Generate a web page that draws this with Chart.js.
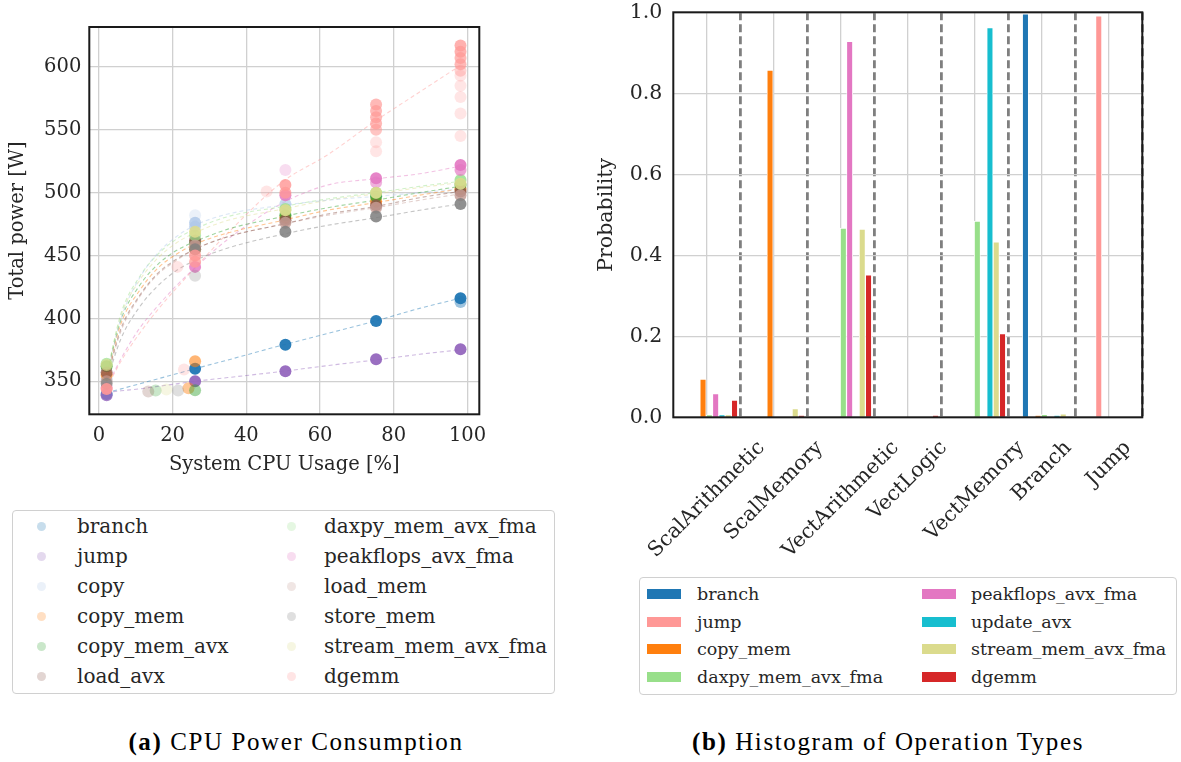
<!DOCTYPE html>
<html><head><meta charset="utf-8">
<script src="https://cdn.jsdelivr.net/npm/chart.js@4"></script>
<style>
html,body{margin:0;padding:0;background:#fff;}
#wrap{position:relative;width:1181px;height:762px;overflow:hidden;font-family:"DejaVu Serif",serif;color:#262626;}
canvas{position:absolute;}
.box{position:absolute;border:1.5px solid #d0d0d0;border-radius:4px;box-sizing:border-box;}
.li{position:absolute;white-space:nowrap;}
.cap{position:absolute;font-family:"Liberation Serif",serif;font-size:25px;color:#000;white-space:nowrap;letter-spacing:1.6px;transform:translateX(-50%);}
</style></head>
<body><div id="wrap">
<canvas id="cpu" width="490" height="480" style="left:0;top:0"></canvas>
<canvas id="ops" width="621" height="570" style="left:560px;top:0"></canvas>
<div class="box" style="left:12px;top:510px;width:543px;height:184px"></div>
<div class="box" style="left:639px;top:577px;width:538px;height:118px"></div>
<div id="legA"></div><div id="legB"></div>
<div class="cap" style="left:296px;top:728px"><b>(a)</b> CPU Power Consumption</div>
<div class="cap" style="left:888px;top:728px"><b>(b)</b> Histogram of Operation Types</div>
</div>
<script>
// ---------------- (a) CPU power consumption ----------------
const X_TICKS = [0, 20, 40, 60, 80, 100];
const Y_TICKS = [350, 400, 450, 500, 550, 600];
const SERIES = ['branch','jump','copy','copy_mem','copy_mem_avx','load_avx',
  'daxpy_mem_avx_fma','peakflops_avx_fma','load_mem','store_mem','stream_mem_avx_fma','dgemm'];
const SERIES_COLORS = ['#1f77b4','#9467bd','#aec7e8','#ff7f0e','#2ca02c','#8c564b',
  '#98df8a','#e377c2','#c49c94','#7f7f7f','#dbdb8d','#ff9896'];

// measurements: [system CPU usage %, total power W, number of overlapping runs]
const PTS_BRANCH = [[2.1,340,5],[26.1,360,10],[50.6,379,10],[75.2,398,10],[98.1,416,10],[98.1,413,2]];
const PTS_JUMP = [[2.1,339,6],[26.1,350,10],[50.6,358,10],[75.2,367.5,10],[98.1,375.5,10]];
const PTS_COPY = [[2.1,352,3],[26.1,482,1],[26.1,476,6],[26.1,473,4],[50.6,491,4],[75.2,497,3],[98.1,503,3]];
const PTS_COPY_MEM = [[2.1,355,4],[24.3,344.5,2],[26.1,366,3],[26.1,455,5],[50.6,480,5],[75.2,493,5],[98.1,503,5]];
const PTS_COPY_MEM_AVX = [[2.1,362,5],[15.4,342.7,1],[26.1,343,2],[26.1,460,4],[50.6,482,5],[75.2,497,5],[98.1,506,5]];
const PTS_LOAD_AVX = [[2.1,357,5],[13.4,342,1],[26.1,462,6],[50.6,478,6],[75.2,490,6],[98.1,501,6]];
const PTS_DAXPY = [[2.1,364,4],[26.1,466,4],[50.6,487,5],[75.2,500,5],[98.1,510,6]];
const PTS_PEAKFLOPS = [[2.1,345,4],[26.1,441,6],[50.6,498,6],[50.6,518,1],[75.2,511.5,8],[75.2,508,3],[98.1,522,8],[98.1,518,4]];
const PTS_LOAD_MEM = [[2.1,350,4],[26.1,458,6],[50.6,476,6],[75.2,488,6],[98.1,498,6]];
const PTS_STORE_MEM = [[2.1,348,4],[21.5,342.7,1],[26.1,455,6],[26.1,434,1],[50.6,469,7],[75.2,481,7],[98.1,491,7]];
const PTS_STREAM = [[2.1,363,4],[18.3,343.6,1],[26.1,469,8],[50.6,486,8],[75.2,500,8],[98.1,507,8]];
const PTS_DGEMM = [[2.1,344,8],[21.3,441,1],[23.1,359.4,1],[26.1,450,6],[26.1,445,5],[45.5,501,1],
  [50.6,506,6],[50.6,500,5],[75.2,570,4],[75.2,565,4],[75.2,560,4],[75.2,555,4],[75.2,550,3],
  [75.2,540,1],[75.2,533,1],[98.1,617,5],[98.1,612,5],[98.1,607,4],[98.1,602,4],[98.1,597,2],
  [98.1,593,1],[98.1,585,1],[98.1,576,1],[98.1,563,1],[98.1,545,1]];

// fitted trend curves, read at these CPU usages
const FIT_X = [2, 6, 11, 16, 21, 26, 35, 50, 62, 75, 87, 98];
const FIT_BRANCH = [341,344,348,352,356,360,367,379,388,398,408,416];
const FIT_JUMP = [341,342.5,344,346,348,350,353,358,362.5,367,371.5,375];
const FIT_COPY = [352,400,432,452,465,474,483,490,494,497,500,503];
const FIT_COPY_MEM = [352,396,422,440,451,459,468,478,486,492,498,503];
const FIT_COPY_MEM_AVX = [353,399,426,443,454,461,471,481,488,494,500,505];
const FIT_LOAD_AVX = [351,392,418,436,447,455,465,475,483,489,496,501];
const FIT_DAXPY = [354,404,433,451,463,471,481,489,495,500,505,509];
const FIT_PEAKFLOPS = [345,368,392,410,426,440,463,492,506,511,515,521];
const FIT_LOAD_MEM = [350,390,417,435,446,455,465,475,482,488,494,499];
const FIT_STORE_MEM = [349,384,409,426,438,446,456,467,474,480,486,491];
const FIT_STREAM = [354,402,430,448,460,468,478,487,494,499,504,508];
const FIT_DGEMM = [344,366,388,407,424,440,468,509,530,557,580,601];

const PTS = [PTS_BRANCH,PTS_JUMP,PTS_COPY,PTS_COPY_MEM,PTS_COPY_MEM_AVX,PTS_LOAD_AVX,
  PTS_DAXPY,PTS_PEAKFLOPS,PTS_LOAD_MEM,PTS_STORE_MEM,PTS_STREAM,PTS_DGEMM];
const FITS = [FIT_BRANCH,FIT_JUMP,FIT_COPY,FIT_COPY_MEM,FIT_COPY_MEM_AVX,FIT_LOAD_AVX,
  FIT_DAXPY,FIT_PEAKFLOPS,FIT_LOAD_MEM,FIT_STORE_MEM,FIT_STREAM,FIT_DGEMM];

// ---------------- (b) histogram of operation types ----------------
const CATEGORIES = ['ScalArithmetic','ScalMemory','VectArithmetic','VectLogic','VectMemory','Branch','Jump'];
const PROB_TICKS = [0, 0.2, 0.4, 0.6, 0.8, 1.0];
const BAR_SERIES = ['branch','jump','copy_mem','daxpy_mem_avx_fma','peakflops_avx_fma','update_avx','stream_mem_avx_fma','dgemm'];
const BAR_COLORS = ['#1f77b4','#ff9896','#ff7f0e','#98df8a','#e377c2','#17becf','#dbdb8d','#d62728'];
const BAR_BRANCH = [0, 0, 0, 0, 0, 0.996, 0];
const BAR_JUMP = [0, 0, 0, 0, 0, 0, 0.991];
const BAR_COPY_MEM = [0.094, 0.857, 0, 0, 0, 0.004, 0];
const BAR_DAXPY = [0.006, 0, 0.467, 0, 0.484, 0.007, 0];
const BAR_PEAKFLOPS = [0.058, 0, 0.928, 0, 0, 0, 0];
const BAR_UPDATE_AVX = [0.006, 0, 0, 0, 0.962, 0.004, 0];
const BAR_STREAM = [0.006, 0.021, 0.464, 0, 0.433, 0.008, 0];
const BAR_DGEMM = [0.042, 0.004, 0.351, 0.004, 0.206, 0, 0];
const BARS = [BAR_BRANCH,BAR_JUMP,BAR_COPY_MEM,BAR_DAXPY,BAR_PEAKFLOPS,BAR_UPDATE_AVX,BAR_STREAM,BAR_DGEMM];

// ---------------- rendering ----------------
Chart.defaults.font.family = '"DejaVu Serif", serif';
Chart.defaults.color = '#262626';
Chart.defaults.animation = false;

function rgba(hex, a){const n=parseInt(hex.slice(1),16);return 'rgba('+(n>>16)+','+((n>>8)&255)+','+(n&255)+','+a+')';}
const framePlugin = {id:'frame', afterDraw(chart){
  const {ctx, chartArea:a} = chart; ctx.save(); ctx.strokeStyle='#1a1a1a'; ctx.lineWidth=2;
  ctx.strokeRect(a.left, a.top, a.right-a.left, a.bottom-a.top); ctx.restore();}};
function noPad(s){s.paddingTop=0;s.paddingBottom=0;s.paddingLeft=0;s.paddingRight=0;}

const GRID = '#d0d0d0';
const FA = {family:'"DejaVu Serif", serif', size:19.5};

const dsA = [];
SERIES.forEach((name,i)=>{
  dsA.push({type:'line', label:name+' fit', data:FIT_X.map((x,j)=>({x, y:FITS[i][j]})),
    borderColor:rgba(SERIES_COLORS[i],0.45), borderWidth:1.1, borderDash:[4,3], pointRadius:0,
    fill:false, showLine:true, cubicInterpolationMode:'monotone', order:100});
});
SERIES.forEach((name,i)=>{
  dsA.push({type:'scatter', label:name, data:PTS[i].map(p=>({x:p[0], y:p[1], n:p[2]})),
    pointBackgroundColor:(c)=>rgba(SERIES_COLORS[i], 1-Math.pow(0.75,(c.raw&&c.raw.n)||1)),
    backgroundColor:rgba(SERIES_COLORS[i],0.25), pointBorderWidth:0, borderWidth:0,
    pointRadius:6, pointHoverRadius:6, order:50-i});
});

new Chart(document.getElementById('cpu'), {
  type:'scatter', data:{datasets:dsA},
  plugins:[framePlugin],
  options:{responsive:false, events:[],
    layout:{padding:{left:0, top:27, right:10.7, bottom:0}},
    plugins:{legend:{display:false}, tooltip:{enabled:false}},
    scales:{
      x:{type:'linear', min:-2.6, max:103.2, offset:false,
        afterBuildTicks:(s)=>{s.ticks = X_TICKS.map(v=>({value:v}));},
        afterFit:(s)=>{s.height = 480-414.3; noPad(s);},
        grid:{color:GRID, lineWidth:1.3, drawTicks:false}, border:{display:false},
        ticks:{font:FA, padding:10, color:'#262626'},
        title:{display:true, text:'System CPU Usage [%]', font:FA, color:'#262626', padding:{top:0,bottom:3}}},
      y:{type:'linear', min:323.8, max:631.7,
        afterBuildTicks:(s)=>{s.ticks = Y_TICKS.map(v=>({value:v}));},
        afterFit:(s)=>{s.width = 89.3; noPad(s);},
        grid:{color:GRID, lineWidth:1.3, drawTicks:false}, border:{display:false},
        ticks:{font:FA, padding:8, color:'#262626'},
        title:{display:true, text:'Total power [W]', font:FA, color:'#262626', padding:{top:6,bottom:0}}}
    }}
});

const GROUP_START = -0.244, BAR_PITCH = 0.094;
const FB = {family:'"DejaVu Serif", serif', size:20.5};
const dsB = BAR_SERIES.map((name,s)=>({label:name,
  data:CATEGORIES.map((c,i)=>({x:i+GROUP_START+s*BAR_PITCH, y:BARS[s][i]})),
  backgroundColor:BAR_COLORS[s], borderColor:'#ffffff', borderWidth:{top:0.8,left:0.8,right:0.8,bottom:0},
  barThickness:6, grouped:false}));

const catLabelPlugin = {id:'catLabels', afterDraw(chart){
  const {ctx} = chart; const sc = chart.scales.x; const bottom = chart.chartArea.bottom;
  ctx.save(); ctx.font = FB.size+'px '+FB.family; ctx.fillStyle='#262626';
  ctx.textAlign='center'; ctx.textBaseline='middle';
  CATEGORIES.forEach((lab,i)=>{
    const x = sc.getPixelForValue(i);
    const w = ctx.measureText(lab).width, h = FB.size*1.16;
    const half = (w+h)*Math.SQRT1_2/2;
    ctx.save(); ctx.translate(x, bottom+19+half); ctx.rotate(-Math.PI/4); ctx.fillText(lab,0,0); ctx.restore();
  });
  ctx.restore();}};

new Chart(document.getElementById('ops'), {
  type:'bar', data:{datasets:dsB},
  plugins:[framePlugin, catLabelPlugin],
  options:{responsive:false, events:[],
    layout:{padding:{left:0, top:12.3, right:38.7, bottom:0}},
    plugins:{legend:{display:false}, tooltip:{enabled:false}},
    scales:{
      x:{type:'linear', min:-0.5, max:6.5, offset:false,
        afterBuildTicks:(s)=>{s.ticks = CATEGORIES.map((c,i)=>({value:i}));},
        afterFit:(s)=>{s.height = 570-417.3; noPad(s);},
        grid:{color:GRID, lineWidth:1.3, drawTicks:false, offset:false}, border:{display:false},
        ticks:{display:false}},
      xsep:{type:'linear', axis:'x', position:'bottom', min:-0.5, max:6.5, offset:false,
        afterBuildTicks:(s)=>{s.ticks = CATEGORIES.map((c,i)=>({value:i+0.5}));},
        afterFit:(s)=>{s.height = 0; noPad(s);},
        grid:{color:'#7f7f7f', lineWidth:2.8, drawTicks:false, offset:false},
        border:{display:false, dash:[8,4]}, ticks:{display:false}},
      y:{type:'linear', min:0, max:1,
        afterBuildTicks:(s)=>{s.ticks = PROB_TICKS.map(v=>({value:v}));},
        afterFit:(s)=>{s.width = 113.3; noPad(s);},
        grid:{color:GRID, lineWidth:1.3, drawTicks:false}, border:{display:false},
        ticks:{font:FB, padding:11, color:'#262626', callback:(v)=>Number(v).toFixed(1)},
        title:{display:true, text:'Probability', font:FB, color:'#262626', padding:{top:34,bottom:0}}}
    }}
});

// ---------------- legends ----------------
const legA = document.getElementById('legA');
SERIES.forEach((name,k)=>{
  const col = Math.floor(k/6), row = k%6;
  const cy = 526 + 30*row;
  const m = document.createElement('div');
  m.style.cssText = 'position:absolute;width:9px;height:9px;border-radius:50%;left:'+([41,291][col]-4.5)+'px;top:'+(cy-4.5)+'px;background:'+rgba(SERIES_COLORS[k],0.25);
  legA.appendChild(m);
  const t = document.createElement('div'); t.className='li';
  t.style.cssText += 'left:'+[77,324][col]+'px;top:'+(cy-13)+'px;line-height:26px;font-size:20px;';
  t.textContent = name; legA.appendChild(t);
});
const legB = document.getElementById('legB');
BAR_SERIES.forEach((name,k)=>{
  const col = Math.floor(k/4), row = k%4;
  const cy = 594 + 27.7*row;
  const m = document.createElement('div');
  m.style.cssText = 'position:absolute;width:34px;height:10px;left:'+[647,922][col]+'px;top:'+(cy-5)+'px;background:'+BAR_COLORS[k];
  legB.appendChild(m);
  const t = document.createElement('div'); t.className='li';
  t.style.cssText += 'left:'+[697,971][col]+'px;top:'+(cy-12)+'px;line-height:24px;font-size:17.5px;';
  t.textContent = name; legB.appendChild(t);
});
</script>
</body></html>
